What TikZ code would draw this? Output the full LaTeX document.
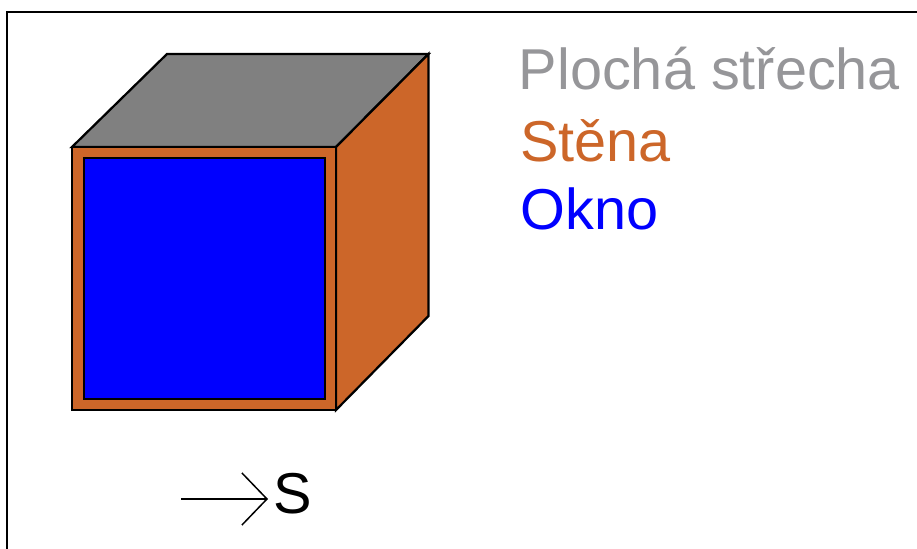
\documentclass[tikz,border=0pt]{standalone}
\usepackage{fontspec}
\setmainfont{Liberation Sans}
\usepackage{tikz}
\usetikzlibrary{arrows.meta,positioning}
\usepackage{xcolor}
\definecolor{stena}{RGB}{204,102,41}
\definecolor{strecha}{RGB}{128,128,128}
\definecolor{popis}{RGB}{150,150,153}
\definecolor{okno}{RGB}{0,0,255}

\begin{document}
\begin{tikzpicture}[
    face/.style={draw=black, line width=0.045cm, line join=miter},
    legend/.style={anchor=base west, inner sep=0pt, font=\fontsize{32.8}{36}\selectfont}
]
    \useasboundingbox (0, 0) rectangle (18.34, 10.98);
    % frame
    \draw[line width=0.04cm] (0.15, 0) -- (0.15, 10.74) -- (18.34, 10.74);

    % cube
    \draw[face, fill=strecha] (1.44, 8.04) -- (3.34, 9.9) -- (8.57, 9.9) -- (6.72, 8.04) -- cycle;
    \draw[face, fill=stena] (6.72, 8.04) -- (8.57, 9.9) -- (8.57, 4.66) -- (6.72, 2.78) -- cycle;
    \draw[face, fill=stena] (1.44, 2.78) rectangle (6.72, 8.04);
    \draw[face, fill=okno] (1.68, 3.0) rectangle (6.5, 7.82);

    % legend
    \node[legend, text=popis] (plocha) at (10.37, 9.18) {Plochá střecha};
    \node[legend, text=stena] (stenatext) at (10.4, 7.74) {Stěna};
    \node[legend, text=okno] (oknotext) at (10.4, 6.38) {Okno};

    % south arrow
    \coordinate (arrowstart) at (3.62, 1.0);
    \node[legend, inner sep=0.11cm, text=black] (jih) at (5.36, 0.7) {S};
    \draw[-{Straight Barb[length=0.5cm, width=1.04cm]}, line width=0.03cm] (arrowstart) -- (arrowstart -| jih.west);
\end{tikzpicture}
\end{document}
